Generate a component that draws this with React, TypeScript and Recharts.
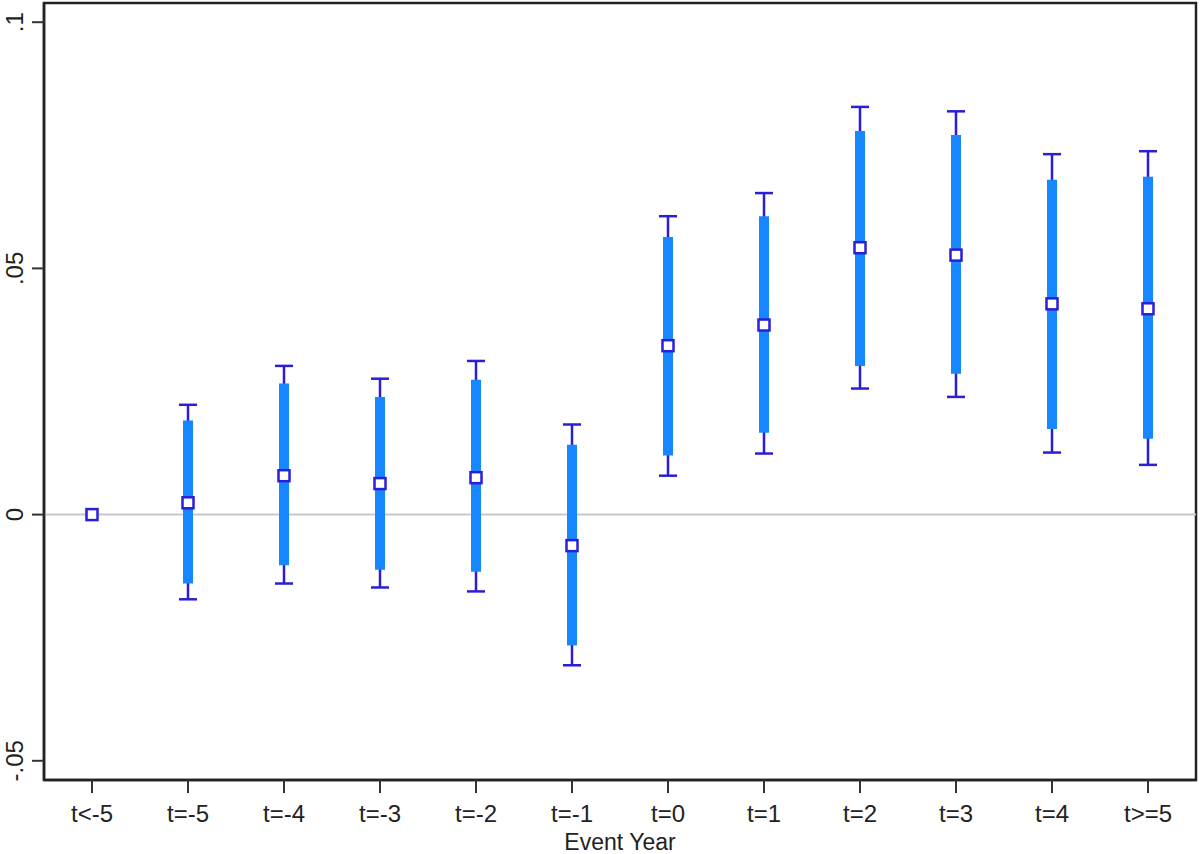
import React from 'react';
import { ComposedChart, Scatter, ErrorBar, XAxis, YAxis, ReferenceLine, ReferenceArea } from 'recharts';

const labels = ['t<-5', 't=-5', 't=-4', 't=-3', 't=-2', 't=-1', 't=0', 't=1', 't=2', 't=3', 't=4', 't>=5'];
const coef = [0, 0.0024, 0.0079, 0.0063, 0.0075, -0.0063, 0.0343, 0.0385, 0.0542, 0.0527, 0.0428, 0.0418];
const ci90Lo: (number | null)[] = [null, -0.014, -0.0103, -0.0112, -0.0116, -0.0266, 0.012, 0.0166, 0.0302, 0.0286, 0.0174, 0.0154];
const ci90Hi: (number | null)[] = [null, 0.0191, 0.0266, 0.0239, 0.0274, 0.0142, 0.0564, 0.0606, 0.0779, 0.0771, 0.068, 0.0686];
const ci95Lo: (number | null)[] = [null, -0.0172, -0.014, -0.0148, -0.0156, -0.0306, 0.0079, 0.0124, 0.0256, 0.0239, 0.0126, 0.0101];
const ci95Hi: (number | null)[] = [null, 0.0223, 0.0302, 0.0276, 0.0312, 0.0183, 0.0606, 0.0653, 0.0828, 0.0819, 0.0732, 0.0738];
const yTicks = [-0.05, 0, 0.05, 0.1];
const yTickLabels = ['-.05', '0', '.05', '.1'];

const data = labels.map((l, i) => ({
  x: i,
  y: coef[i],
  e90: ci90Lo[i] == null ? undefined : [coef[i] - (ci90Lo[i] as number), (ci90Hi[i] as number) - coef[i]],
  e95: ci95Lo[i] == null ? undefined : [coef[i] - (ci95Lo[i] as number), (ci95Hi[i] as number) - coef[i]],
}));

const FONT = '"Liberation Sans", Arial, sans-serif';
const DARK = '#2a1fd6';
const BLUE = '#1687ff';

const YTick = (props: any) => {
  const { x, y, payload } = props;
  const idx = yTicks.indexOf(payload.value);
  return (
    <text
      x={0}
      y={0}
      transform={`translate(${x - 7},${y}) rotate(-90)`}
      textAnchor="middle"
      fontSize={24}
      fontFamily={FONT}
      fill="#222"
    >
      {idx >= 0 ? yTickLabels[idx] : payload.value}
    </text>
  );
};

const XTick = (props: any) => {
  const { x, y, payload } = props;
  return (
    <text x={x} y={y + 27} textAnchor="middle" fontSize={24} fontFamily={FONT} fill="#222">
      {labels[payload.value]}
    </text>
  );
};

const Marker = (props: any) => {
  const { cx, cy } = props;
  return <rect x={cx - 5.5} y={cy - 5.5} width={11} height={11} fill="#fff" stroke={DARK} strokeWidth={2.5} />;
};

const Empty = () => <g />;

export default function App() {
  return (
    <div style={{ position: 'absolute', left: 0, top: 0, background: '#fff' }}>
      <ComposedChart width={1200} height={854} data={data} margin={{ top: 3, right: 4, bottom: 0, left: 0 }}>
        <XAxis
          type="number"
          dataKey="x"
          domain={[-0.5, 11.5]}
          ticks={labels.map((_, i) => i)}
          tick={<XTick />}
          tickSize={13}
          tickLine={{ stroke: '#333', strokeWidth: 2 }}
          axisLine={{ stroke: '#222', strokeWidth: 2.5 }}
          height={74}
          interval={0}
          allowDataOverflow
          label={{ value: 'Event Year', position: 'insideBottom', offset: 4, fontSize: 23, fontFamily: FONT, fill: '#222' }}
        />
        <YAxis
          type="number"
          dataKey="y"
          domain={[-0.0539, 0.1039]}
          ticks={yTicks}
          tick={<YTick />}
          tickSize={12}
          tickLine={{ stroke: '#333', strokeWidth: 2 }}
          axisLine={{ stroke: '#222', strokeWidth: 2.5 }}
          width={44}
          allowDataOverflow
        />
        <ReferenceArea x1={-0.5} x2={11.5} y1={-0.0539} y2={0.1039} fill="none" stroke="#222" strokeWidth={2.5} ifOverflow="visible" />
        <ReferenceLine y={0} stroke="#c8c8c8" strokeWidth={2} />
        <Scatter data={data} dataKey="y" shape={<Empty />} isAnimationActive={false}>
          <ErrorBar dataKey="e95" direction="y" width={9} stroke={DARK} strokeWidth={2.5} />
          <ErrorBar dataKey="e90" direction="y" width={0} stroke={BLUE} strokeWidth={10} />
        </Scatter>
        <Scatter data={data} dataKey="y" shape={<Marker />} isAnimationActive={false} />
      </ComposedChart>
    </div>
  );
}
